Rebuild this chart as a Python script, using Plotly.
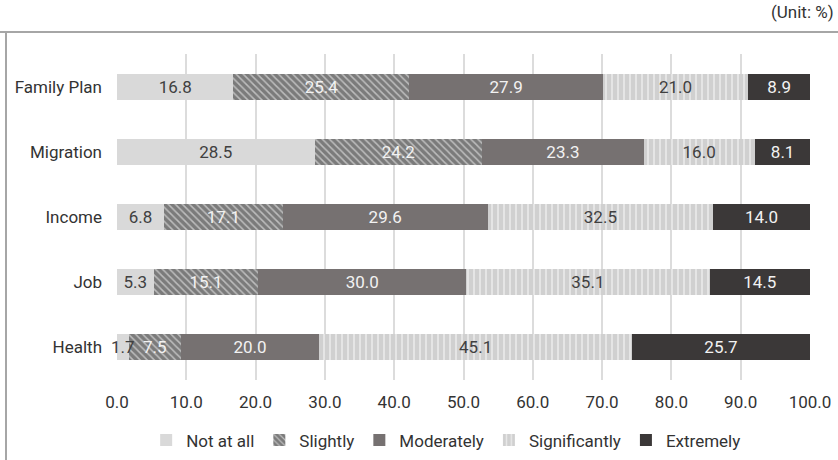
import plotly.graph_objects as go

categories = ["Family Plan", "Migration", "Income", "Job", "Health"]
levels = ["Not at all", "Slightly", "Moderately", "Significantly", "Extremely"]

not_at_all = [16.8, 28.5, 6.8, 5.3, 1.7]
slightly = [25.4, 24.2, 17.1, 15.1, 7.5]
moderately = [27.9, 23.3, 29.6, 30.0, 20.0]
significantly = [21.0, 16.0, 32.5, 35.1, 45.1]
extremely = [8.9, 8.1, 14.0, 14.5, 25.7]

x_ticks = [0, 10, 20, 30, 40, 50, 60, 70, 80, 90, 100]

series = [not_at_all, slightly, moderately, significantly, extremely]
styles = [
    dict(color="#d9d9d9", pattern=None, text="#404040"),
    dict(color="#7b7b7b", pattern=dict(shape="\\", fgcolor="#ffffff", bgcolor="#7b7b7b",
                                       size=5, solidity=0.3, fillmode="overlay"), text="#f2f2f2"),
    dict(color="#767171", pattern=None, text="#f2f2f2"),
    dict(color="#d0d0d0", pattern=dict(shape="|", fgcolor="#ffffff", bgcolor="#d0d0d0",
                                       size=6, solidity=0.3, fillmode="overlay"), text="#404040"),
    dict(color="#3b3838", pattern=None, text="#f2f2f2"),
]

FONT = "Roboto, 'Noto Sans', Arial, sans-serif"
FS = 17
SMALL = 4.0  # segments narrower than this get their label as an overlay annotation

fig = go.Figure()
overlay_labels = []
base = [0.0] * len(categories)
for name, vals, st in zip(levels, series, styles):
    marker = dict(color=st["color"], line=dict(width=0))
    if st["pattern"] is not None:
        marker["pattern"] = st["pattern"]
    labels = []
    for i, v in enumerate(vals):
        if v < SMALL:
            labels.append("")
            overlay_labels.append(dict(
                x=base[i] + v / 2, y=categories[i], xref="x", yref="y",
                text=f"{v:.1f}", showarrow=False,
                font=dict(size=FS, color=st["text"], family=FONT)))
        else:
            labels.append(f"{v:.1f}")
        base[i] += v
    fig.add_trace(go.Bar(
        y=categories, x=vals, name=name, orientation="h",
        marker=marker,
        text=labels, texttemplate="%{text}",
        textposition="inside", insidetextanchor="middle",
        constraintext="none", textangle=0,
        textfont=dict(size=FS, color=st["text"], family=FONT),
        hoverinfo="skip",
    ))

fig.update_layout(
    barmode="stack",
    bargap=0.6,
    width=838, height=460,
    margin=dict(l=117, r=28, t=54, b=80, autoexpand=False),
    paper_bgcolor="white",
    plot_bgcolor="white",
    font=dict(family=FONT, size=FS, color="#333333"),
    showlegend=True,
    legend=dict(orientation="h", x=0.475, xanchor="center", y=-0.13, yanchor="top",
                font=dict(size=FS, color="#333333"), itemwidth=30,
                traceorder="normal"),
    xaxis=dict(range=[0, 100], tickvals=x_ticks, ticktext=[f"{v:.1f}" for v in x_ticks],
               showgrid=True, gridcolor="#dcdcdc", gridwidth=1.5, zeroline=False,
               showline=False, ticks="", ticklabelstandoff=10, automargin=False,
               tickfont=dict(size=FS, color="#333333"),
               fixedrange=True),
    yaxis=dict(autorange="reversed", showgrid=False, showline=False, ticks="",
               ticklabelstandoff=14, automargin=False,
               tickfont=dict(size=FS, color="#333333"),
               fixedrange=True),
    shapes=[
        dict(type="line", xref="paper", yref="paper", x0=-117/693, x1=(838-117)/693 + 0.01,
             y0=(460-80-32)/326, y1=(460-80-32)/326, line=dict(color="#a6a6a6", width=2)),
        dict(type="line", xref="paper", yref="paper", x0=-(117-6)/693, x1=-(117-6)/693,
             y0=(460-80-32)/326, y1=-80/326 - 0.01, line=dict(color="#a6a6a6", width=2)),
    ],
    annotations=[
        dict(text="(Unit: %)", xref="paper", yref="paper", x=(836-117)/693, y=(460-80-12)/326,
             xanchor="right", yanchor="middle", showarrow=False,
             font=dict(size=FS, color="#333333")),
    ] + overlay_labels,
)

fig.write_html("out.html")
